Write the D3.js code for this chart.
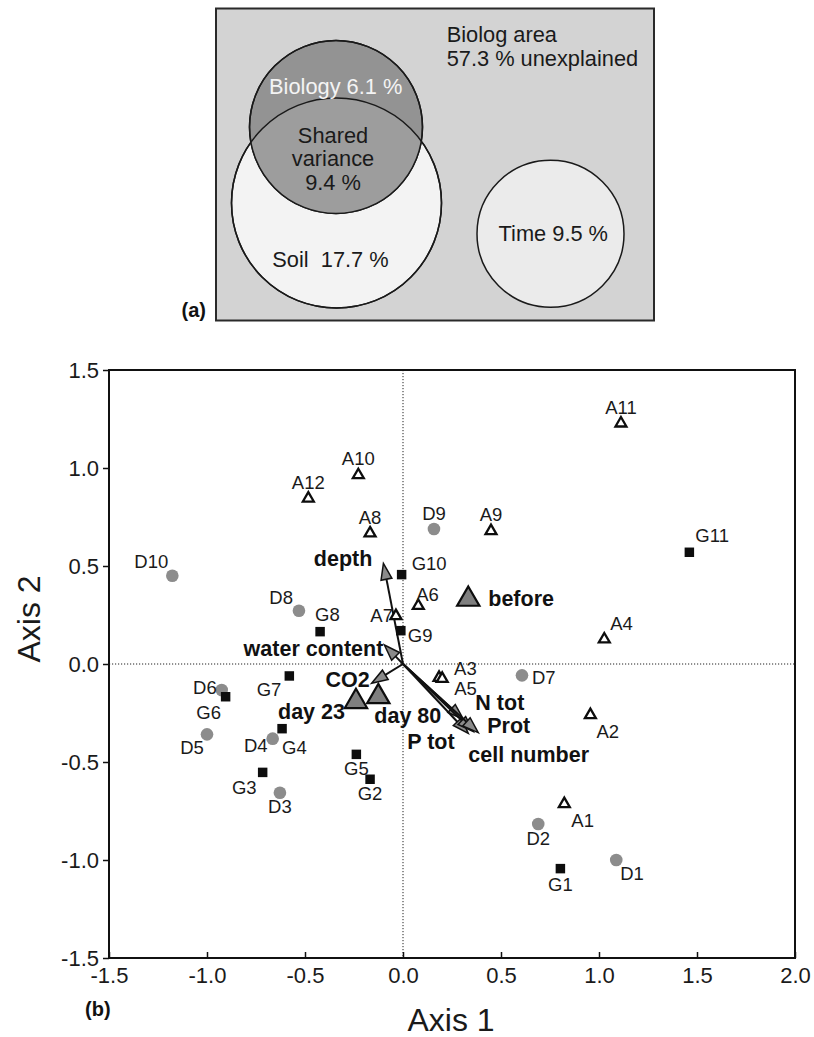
<!DOCTYPE html>
<html><head><meta charset="utf-8">
<script src="https://cdn.jsdelivr.net/npm/d3@7"></script>
<style>
html,body{margin:0;padding:0;background:#fff;}
svg{display:block;font-family:"Liberation Sans",Arial,Helvetica,sans-serif;}
text{white-space:pre;}
</style></head>
<body>
<svg id="chart" width="814" height="1037"></svg>
<script>
// ---------- DATA ----------
// Panel (a): variance partitioning
const vennLabels = ["Biology 6.1 %", "Shared", "variance", "9.4 %", "Soil  17.7 %", "Time 9.5 %"];
const vennTitle = ["Biolog area", "57.3 % unexplained"];

// Panel (b): ordination
const xTicks = [-1.5, -1.0, -0.5, 0.0, 0.5, 1.0, 1.5, 2.0];
const yTicks = [-1.5, -1.0, -0.5, 0.0, 0.5, 1.0, 1.5];

const aNames = ["A1","A2","A3","A4","A5","A6","A7","A8","A9","A10","A11","A12"];
const aX = [0.823, 0.956, 0.184, 1.027, 0.200, 0.078, -0.036, -0.168, 0.449, -0.228, 1.112, -0.483];
const aY = [-0.714, -0.260, -0.070, 0.126, -0.075, 0.297, 0.245, 0.667, 0.679, 0.964, 1.228, 0.845];

const gNames = ["G1","G2","G3","G4","G5","G6","G7","G8","G9","G10","G11"];
const gX = [0.803, -0.168, -0.716, -0.617, -0.238, -0.905, -0.580, -0.423, -0.011, -0.007, 1.461];
const gY = [-1.044, -0.588, -0.553, -0.330, -0.461, -0.167, -0.061, 0.165, 0.170, 0.456, 0.570];

const dNames = ["D1","D2","D3","D4","D5","D6","D7","D8","D9","D10"];
const dX = [1.088, 0.690, -0.628, -0.665, -1.000, -0.925, 0.607, -0.531, 0.158, -1.177];
const dY = [-1.000, -0.816, -0.657, -0.381, -0.359, -0.133, -0.058, 0.272, 0.689, 0.450];

const envNames = ["depth","water content","CO2","N tot","P tot","cell number","Prot"];
const envX = [-0.100, -0.095, -0.160, 0.308, 0.333, 0.359, 0.384];
const envY = [0.513, 0.097, -0.098, -0.282, -0.354, -0.345, -0.350];

const timeNames = ["before","day 23","day 80"];
const timeX = [0.333, -0.240, -0.126];
const timeY = [0.330, -0.192, -0.167];

// ---------- LAYOUT (label placement: anchor, dx, dy in px) ----------
const labelPos = {
  A1:["start",7,23], A2:["start",6,23], A3:["start",15,-3], A4:["start",6,-9], A5:["start",12,16],
  A6:["start",-2,-5], A7:["end",-3,6], A8:["middle",0,-9], A9:["middle",0,-10], A10:["middle",0,-10],
  A11:["middle",0,-9], A12:["middle",0,-9],
  G1:["middle",0,22], G2:["middle",0,21], G3:["end",-6,22], G4:["start",0,25], G5:["middle",0,21],
  G6:["middle",-17,22], G7:["end",-8,20], G8:["start",-5,-11], G9:["start",7,11], G10:["start",10,-5],
  G11:["start",6,-10],
  D1:["start",4,20], D2:["middle",0,21], D3:["middle",0,20], D4:["end",-5,13], D5:["middle",-15,20],
  D6:["end",-5,4], D7:["start",10,9], D8:["end",-6,-7], D9:["middle",0,-9], D10:["end",-4,-8],
  "depth":["end",-11,3], "water content":["end",-1,11], "CO2":["end",-2,4], "N tot":["start",12,-9],
  "Prot":["start",9,0], "P tot":["start",-61,16], "cell number":["start",-5,30],
  "before":["start",20,7], "day 23":["end",-11,17], "day 80":["start",-4,26]
};

const svg = d3.select("#chart");

// ---------- PANEL (a) ----------
const pa = svg.append("g");
pa.append("rect").attr("x",216).attr("y",8.5).attr("width",438).attr("height",312)
  .attr("fill","#d3d3d3").attr("stroke","#2a2a2a").attr("stroke-width",2);

const soil = {cx:336.5, cy:203, r:105};
const bio = {cx:336, cy:127, r:86.5};
const time = {cx:550.5, cy:233.7, r:73.5};

pa.append("circle").attr("cx",soil.cx).attr("cy",soil.cy).attr("r",soil.r)
  .attr("fill","#f3f3f3").attr("stroke","#1a1a1a").attr("stroke-width",1.5);
pa.append("circle").attr("cx",bio.cx).attr("cy",bio.cy).attr("r",bio.r)
  .attr("fill","#939393").attr("stroke","#1a1a1a").attr("stroke-width",1.5);
pa.append("clipPath").attr("id","bioClip").append("circle")
  .attr("cx",bio.cx).attr("cy",bio.cy).attr("r",bio.r);
pa.append("circle").attr("cx",soil.cx).attr("cy",soil.cy).attr("r",soil.r)
  .attr("clip-path","url(#bioClip)").attr("fill","#9d9d9d").attr("stroke","none");
pa.append("circle").attr("cx",bio.cx).attr("cy",bio.cy).attr("r",bio.r)
  .attr("fill","none").attr("stroke","#1a1a1a").attr("stroke-width",1.5);
pa.append("circle").attr("cx",soil.cx).attr("cy",soil.cy).attr("r",soil.r)
  .attr("fill","none").attr("stroke","#1a1a1a").attr("stroke-width",1.5);
pa.append("circle").attr("cx",time.cx).attr("cy",time.cy).attr("r",time.r)
  .attr("fill","#ebebeb").attr("stroke","#1a1a1a").attr("stroke-width",1.5);

const vt = [
  {t:vennLabels[0], x:335.7, y:94, a:"middle", c:"#f4f4f4"},
  {t:vennLabels[1], x:333, y:142.5, a:"middle", c:"#1a1a1a"},
  {t:vennLabels[2], x:333, y:166, a:"middle", c:"#1a1a1a"},
  {t:vennLabels[3], x:333, y:190, a:"middle", c:"#1a1a1a"},
  {t:vennLabels[4], x:330.5, y:266.5, a:"middle", c:"#1a1a1a"},
  {t:vennLabels[5], x:553.3, y:240.5, a:"middle", c:"#1a1a1a"},
  {t:vennTitle[0], x:446.7, y:41.5, a:"start", c:"#1a1a1a"},
  {t:vennTitle[1], x:446.7, y:66, a:"start", c:"#1a1a1a"}
];
pa.selectAll("text.v").data(vt).join("text").attr("class","v")
  .attr("x",d=>d.x).attr("y",d=>d.y).attr("text-anchor",d=>d.a)
  .attr("fill",d=>d.c).attr("font-size",21.8).text(d=>d.t);
pa.append("text").attr("x",181.5).attr("y",316.5).attr("font-size",20).attr("font-weight","bold")
  .attr("fill","#111").text("(a)");

// ---------- PANEL (b) ----------
const x = d3.scaleLinear().domain([-1.5, 2.0]).range([109, 795]);
const y = d3.scaleLinear().domain([-1.5, 1.5]).range([958, 370]);

const pb = svg.append("g");

// zero lines
pb.append("line").attr("x1",x(0)).attr("x2",x(0)).attr("y1",y(1.5)).attr("y2",y(-1.5))
  .attr("stroke","#222").attr("stroke-width",1).attr("stroke-dasharray","1.2,1.8");
pb.append("line").attr("x1",x(-1.5)).attr("x2",x(2.0)).attr("y1",y(0)).attr("y2",y(0))
  .attr("stroke","#222").attr("stroke-width",1).attr("stroke-dasharray","1.2,1.8");

// axes
const fmt = d => d3.format(".1f")(d).replace("\u2212","-");
const xAxis = d3.axisBottom(x).tickValues(xTicks).tickFormat(fmt).tickSizeInner(-6).tickSizeOuter(0).tickPadding(14);
const yAxis = d3.axisLeft(y).tickValues(yTicks).tickFormat(fmt).tickSizeInner(6).tickSizeOuter(0).tickPadding(4);
const gx = pb.append("g").attr("transform",`translate(0,${y(-1.5)})`).call(xAxis);
const gy = pb.append("g").attr("transform",`translate(${x(-1.5)},0)`).call(yAxis);
[gx,gy].forEach(g=>{
  g.select(".domain").remove();
  g.selectAll(".tick line").attr("stroke","#111").attr("stroke-width",1.5);
  g.selectAll(".tick text").attr("font-size",22).attr("fill","#1a1a1a")
    .attr("font-family","'Liberation Sans',Arial,sans-serif");
});
gx.selectAll(".tick text").attr("y",9).attr("dy","0.71em");
gy.selectAll(".tick text").attr("x",-10);

// frame
pb.append("rect").attr("x",x(-1.5)).attr("y",y(1.5)).attr("width",x(2)-x(-1.5)).attr("height",y(-1.5)-y(1.5))
  .attr("fill","none").attr("stroke","#111").attr("stroke-width",2);

// arrows
const env = envNames.map((n,i)=>({n, x:envX[i], y:envY[i]}));
const x0 = x(0), y0 = y(0);
const arr = pb.append("g");
env.forEach(d=>{
  const tx = x(d.x), ty = y(d.y);
  const dx = tx-x0, dy = ty-y0, L = Math.hypot(dx,dy);
  const ux = dx/L, uy = dy/L, hl = 16, hw = 5.5;
  const bx = tx-ux*hl, by = ty-uy*hl;
  arr.append("line").attr("x1",x0).attr("y1",y0).attr("x2",bx).attr("y2",by)
    .attr("stroke","#111").attr("stroke-width",2);
  arr.append("path").attr("d",`M${tx},${ty}L${bx-uy*hw},${by+ux*hw}L${bx+uy*hw},${by-ux*hw}Z`)
    .attr("fill","#8a8a8a").attr("stroke","#111").attr("stroke-width",1.5).attr("stroke-linejoin","miter");
});

// points
const pts = [];
aNames.forEach((n,i)=>pts.push({n, x:aX[i], y:aY[i], t:"A"}));
gNames.forEach((n,i)=>pts.push({n, x:gX[i], y:gY[i], t:"G"}));
dNames.forEach((n,i)=>pts.push({n, x:dX[i], y:dY[i], t:"D"}));

const tri = d3.symbol().type(d3.symbolTriangle).size(52);
const sq = d3.symbol().type(d3.symbolSquare).size(90);
const circ = d3.symbol().type(d3.symbolCircle).size(125);

pb.selectAll("path.d").data(pts.filter(d=>d.t==="D")).join("path").attr("class","d")
  .attr("transform",d=>`translate(${x(d.x)},${y(d.y)})`).attr("d",circ).attr("fill","#8c8c8c");
pb.selectAll("path.g").data(pts.filter(d=>d.t==="G")).join("path").attr("class","g")
  .attr("transform",d=>`translate(${x(d.x)},${y(d.y)})`).attr("d",sq).attr("fill","#0d0d0d");
pb.selectAll("path.a").data(pts.filter(d=>d.t==="A")).join("path").attr("class","a")
  .attr("transform",d=>`translate(${x(d.x)},${y(d.y)})`).attr("d",tri)
  .attr("fill","#fff").attr("stroke","#0d0d0d").attr("stroke-width",2.3);

// big triangles
const tp = timeNames.map((n,i)=>({n, x:timeX[i], y:timeY[i]}));
const bigTri = d3.symbol().type(d3.symbolTriangle).size(215);
pb.selectAll("path.t").data(tp).join("path").attr("class","t")
  .attr("transform",d=>`translate(${x(d.x)},${y(d.y)})`).attr("d",bigTri)
  .attr("fill","#7f7f7f").attr("stroke","#0d0d0d").attr("stroke-width",2.2);

// labels
pb.selectAll("text.pl").data(pts).join("text").attr("class","pl")
  .attr("x",d=>x(d.x)+labelPos[d.n][1]).attr("y",d=>y(d.y)+labelPos[d.n][2])
  .attr("text-anchor",d=>labelPos[d.n][0]).attr("font-size",18.5).attr("fill","#1a1a1a").text(d=>d.n);
pb.selectAll("text.el").data(env.concat(tp)).join("text").attr("class","el")
  .attr("x",d=>x(d.x)+labelPos[d.n][1]).attr("y",d=>y(d.y)+labelPos[d.n][2])
  .attr("text-anchor",d=>labelPos[d.n][0]).attr("font-size",21.5).attr("font-weight","bold")
  .attr("fill","#111").text(d=>d.n);

// axis titles
pb.append("text").attr("x",451).attr("y",1031).attr("text-anchor","middle").attr("font-size",32)
  .attr("fill","#1a1a1a").text("Axis 1");
pb.append("text").attr("transform","translate(40,619) rotate(-90)").attr("text-anchor","middle")
  .attr("font-size",32).attr("fill","#1a1a1a").text("Axis 2");
pb.append("text").attr("x",85).attr("y",1016).attr("font-size",20).attr("font-weight","bold")
  .attr("fill","#111").text("(b)");
</script>
</body></html>
